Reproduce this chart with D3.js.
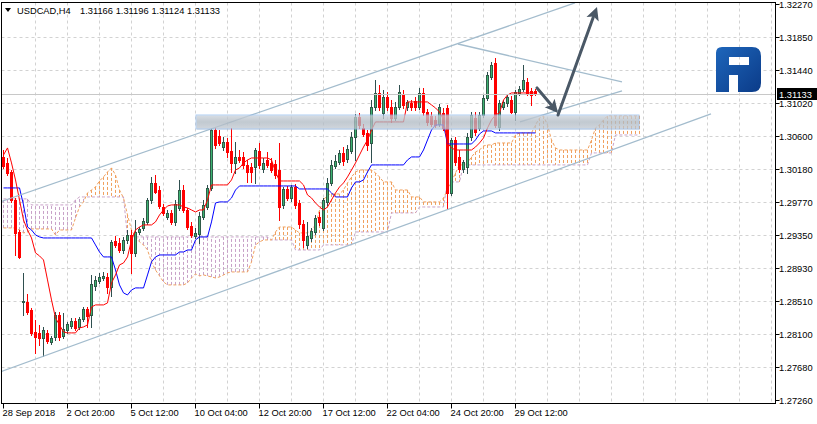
<!DOCTYPE html>
<html><head><meta charset="utf-8">
<script src="https://cdn.jsdelivr.net/npm/d3@7"></script>
<style>
html,body{margin:0;padding:0;background:#fff;}
svg{display:block;}
text{font-family:"Liberation Sans",Arial,sans-serif;font-size:9.3px;fill:#000;}
</style></head><body>
<svg id="c" width="817" height="424"></svg>
<script>
// ---------------- DATA ----------------
const symbolTitle = "USDCAD,H4";
const lastOHLC = [1.31166, 1.31196, 1.31124, 1.31133];
const priceTicks = [1.32270,1.31850,1.31440,1.31020,1.30600,1.30180,1.29770,1.29350,1.28930,1.28510,1.28100,1.27680,1.27260];
const timeLabels = ["28 Sep 2018","2 Oct 20:00","5 Oct 12:00","10 Oct 04:00","12 Oct 20:00","17 Oct 12:00","22 Oct 04:00","24 Oct 20:00","29 Oct 12:00"];
const timeLabelBars = [0,16,32,48,64,80,96,112,128];

const opens = [1.30335,1.30259,1.30145,1.29791,1.29386,1.28501,1.28501,1.28399,1.28121,1.28109,
1.28045,1.28109,1.27995,1.28058,1.28336,1.28071,1.28146,1.28197,1.28260,1.28184,
1.28286,1.28412,1.28336,1.28703,1.28766,1.28804,1.28817,1.28690,1.29272,1.29247,
1.29158,1.29285,1.29348,1.29121,1.29386,1.29437,1.29513,1.29791,1.30006,1.29917,
1.29702,1.29576,1.29627,1.29513,1.29690,1.29917,1.29664,1.29462,1.29336,1.29361,
1.29576,1.29702,1.29943,1.30676,1.30601,1.30461,1.30525,1.30411,1.30259,1.30335,
1.30335,1.30234,1.30208,1.30208,1.30411,1.30183,1.30297,1.30259,1.30246,1.30170,
1.29728,1.29930,1.29816,1.29955,1.29753,1.29487,1.29222,1.29310,1.29386,1.29576,
1.29437,1.29766,1.30006,1.30221,1.30272,1.30386,1.30310,1.30411,1.30588,1.30841,
1.30702,1.30639,1.30512,1.30967,1.31145,1.30892,1.31094,1.30967,1.30828,1.30967,
1.31132,1.30967,1.31018,1.31043,1.30967,1.31145,1.30904,1.30854,1.30803,1.30752,
1.30892,1.30955,1.29880,1.30550,1.30335,1.30183,1.30208,1.30588,1.30828,1.30702,
1.30866,1.31081,1.31347,1.31524,1.30714,1.30967,1.31018,1.31056,1.30904,1.31145,
1.31195,1.31284,1.31170,1.31166];
const highs = [1.30423,1.30322,1.30170,1.29816,1.29411,1.28868,1.28602,1.28425,1.28273,1.28210,
1.28184,1.28146,1.28071,1.28374,1.28374,1.28362,1.28248,1.28298,1.28298,1.28311,
1.28437,1.28437,1.28842,1.28830,1.28868,1.28880,1.28868,1.29285,1.29336,1.29310,
1.29323,1.29411,1.29411,1.29538,1.29449,1.29563,1.29816,1.30082,1.30107,1.29968,
1.29740,1.29664,1.29664,1.29791,1.30044,1.29981,1.29690,1.29513,1.29437,1.29639,
1.29791,1.29981,1.30702,1.30714,1.30676,1.30588,1.30575,1.30702,1.30525,1.30423,
1.30398,1.30297,1.30259,1.30449,1.30512,1.30322,1.30398,1.30322,1.30297,1.30512,
1.29955,1.29968,1.29981,1.29993,1.29791,1.29538,1.29513,1.29437,1.29601,1.29639,
1.29816,1.30069,1.30297,1.30360,1.30423,1.30461,1.30487,1.30651,1.30879,1.30892,
1.30752,1.30676,1.31056,1.31309,1.31246,1.31182,1.31157,1.31056,1.31031,1.31246,
1.31182,1.31056,1.31056,1.31094,1.31208,1.31208,1.30942,1.30904,1.30854,1.31005,
1.30955,1.30993,1.30575,1.30588,1.30423,1.30297,1.30639,1.30904,1.30904,1.30904,
1.31119,1.31410,1.31537,1.31587,1.31056,1.31056,1.31119,1.31107,1.31182,1.31233,
1.31499,1.31334,1.31208,1.31196];
const lows = [1.30196,1.30107,1.29766,1.29095,1.29057,1.28336,1.28349,1.28083,1.27856,1.27957,
1.27818,1.27982,1.27969,1.28020,1.28020,1.28045,1.28109,1.28172,1.28146,1.28159,
1.28260,1.28184,1.28184,1.28652,1.28741,1.28779,1.28615,1.28577,1.29196,1.29133,
1.29121,1.29247,1.28868,1.29083,1.29361,1.29411,1.29487,1.29753,1.29880,1.29690,
1.29601,1.29551,1.29487,1.29475,1.29664,1.29639,1.29424,1.29323,1.29310,1.29247,
1.29551,1.29677,1.29917,1.30449,1.30487,1.30423,1.30335,1.30145,1.30133,1.30272,
1.30196,1.30019,1.30019,1.30006,1.30196,1.30145,1.30208,1.30145,1.30069,1.29538,
1.29690,1.29791,1.29778,1.29690,1.29437,1.29196,1.29184,1.29272,1.29361,1.29475,
1.29411,1.29728,1.29981,1.30196,1.30246,1.30234,1.30272,1.30386,1.30297,1.30702,
1.30601,1.30423,1.30272,1.30929,1.30929,1.30828,1.30929,1.30778,1.30803,1.30942,
1.30955,1.30929,1.30929,1.30929,1.30942,1.30866,1.30740,1.30727,1.30714,1.30727,
1.30676,1.29677,1.29854,1.30234,1.30145,1.30145,1.30133,1.30550,1.30613,1.30676,
1.30841,1.31056,1.31322,1.30714,1.30676,1.30942,1.30980,1.30892,1.30803,1.31119,
1.31170,1.31119,1.30993,1.31124];
const closes = [1.30221,1.30133,1.29791,1.29374,1.29070,1.28513,1.28374,1.28109,1.28058,1.28045,
1.28146,1.28007,1.28045,1.28336,1.28058,1.28159,1.28222,1.28260,1.28172,1.28286,
1.28412,1.28324,1.28728,1.28779,1.28817,1.28830,1.28690,1.29260,1.29222,1.29158,
1.29285,1.29348,1.29121,1.29386,1.29424,1.29525,1.29791,1.30006,1.29892,1.29715,
1.29627,1.29627,1.29513,1.29740,1.29917,1.29664,1.29449,1.29348,1.29374,1.29589,
1.29728,1.29943,1.30676,1.30487,1.30512,1.30525,1.30398,1.30259,1.30335,1.30297,
1.30234,1.30145,1.30145,1.30423,1.30234,1.30259,1.30234,1.30170,1.30107,1.29702,
1.29930,1.29816,1.29955,1.29728,1.29487,1.29285,1.29336,1.29399,1.29563,1.29513,
1.29791,1.30006,1.30234,1.30284,1.30386,1.30284,1.30436,1.30588,1.30841,1.30740,
1.30626,1.30487,1.30967,1.31145,1.30967,1.31094,1.30967,1.30828,1.30967,1.31157,
1.30993,1.31031,1.30967,1.30967,1.31145,1.30904,1.30778,1.30752,1.30740,1.30967,
1.30702,1.29880,1.30550,1.30272,1.30183,1.30272,1.30588,1.30866,1.30651,1.30866,
1.31081,1.31372,1.31499,1.30740,1.31018,1.31031,1.31094,1.30904,1.31157,1.31195,
1.31309,1.31145,1.31119,1.31133];

// Ichimoku lines
const tenkan = [1.30360,1.30449,1.30259,1.30044,1.29791,1.29538,1.29411,1.29310,1.29121,1.29083,
1.29032,1.28779,1.28526,1.28298,1.28210,1.28121,1.28109,1.28109,1.28109,1.28172,
1.28184,1.28210,1.28437,1.28463,1.28463,1.28463,1.28488,1.28741,1.28842,1.28969,
1.28994,1.29070,1.29285,1.29411,1.29449,1.29475,1.29475,1.29475,1.29513,1.29601,
1.29664,1.29715,1.29728,1.29728,1.29728,1.29702,1.29690,1.29664,1.29639,1.29664,
1.29664,1.29791,1.29981,1.29981,1.29981,1.29981,1.29981,1.30044,1.30170,1.30196,
1.30259,1.30297,1.30322,1.30322,1.30322,1.30322,1.30322,1.30297,1.30145,1.30031,
1.30031,1.30031,1.30031,1.30031,1.30031,1.29981,1.29854,1.29816,1.29753,1.29702,
1.29664,1.29702,1.29791,1.29880,1.29955,1.30006,1.30082,1.30170,1.30259,1.30360,
1.30461,1.30550,1.30676,1.30778,1.30778,1.30778,1.30778,1.30778,1.30778,1.30778,
1.30778,1.31031,1.31031,1.31031,1.31031,1.31031,1.31031,1.30993,1.30955,1.30904,
1.30803,1.30512,1.30449,1.30423,1.30423,1.30423,1.30423,1.30423,1.30461,1.30512,
1.30575,1.30702,1.30803,1.30866,1.30892,1.31056,1.31119,1.31145,1.31145,1.31145,
1.31145,1.31145,1.31145,1.31145];
const kijun = [1.29943,1.29943,1.29943,1.29943,1.29943,1.29728,1.29449,1.29411,1.29348,1.29323,
1.29310,1.29310,1.29310,1.29310,1.29310,1.29310,1.29310,1.29310,1.29310,1.29310,
1.29310,1.29310,1.29310,1.29222,1.29133,1.29070,1.29070,1.29070,1.28905,1.28716,
1.28615,1.28589,1.28652,1.28678,1.28678,1.28678,1.28842,1.29007,1.29070,1.29095,
1.29095,1.29095,1.29095,1.29095,1.29133,1.29133,1.29158,1.29158,1.29285,1.29323,
1.29323,1.29323,1.29513,1.29753,1.29766,1.29766,1.29766,1.29816,1.29917,1.29968,
1.29968,1.29968,1.29968,1.29968,1.29968,1.29968,1.29968,1.29968,1.29968,1.29968,
1.29968,1.29968,1.29968,1.29968,1.29930,1.29930,1.29930,1.29930,1.29930,1.29930,
1.29930,1.29930,1.29880,1.29829,1.29829,1.29829,1.29829,1.29943,1.30019,1.30019,
1.30044,1.30145,1.30234,1.30234,1.30234,1.30234,1.30234,1.30234,1.30234,1.30234,
1.30234,1.30297,1.30335,1.30335,1.30335,1.30423,1.30550,1.30676,1.30740,1.30740,
1.30740,1.30499,1.30499,1.30499,1.30499,1.30499,1.30499,1.30499,1.30550,1.30626,
1.30664,1.30664,1.30664,1.30639,1.30639,1.30639,1.30639,1.30639,1.30639,1.30639,
1.30639,1.30639,1.30639,1.30639];
const spanA = [1.29437,1.29437,1.29437,1.29437,1.29411,1.29374,1.29386,1.29424,1.29424,1.29424,
1.29424,1.29424,1.29424,1.29348,1.29411,1.29411,1.29411,1.29411,1.29563,1.29702,
1.29766,1.29880,1.29917,1.29955,1.30031,1.30082,1.30145,1.30196,1.30107,1.29917,
1.29816,1.29601,1.29411,1.29323,1.29260,1.29222,1.29158,1.29007,1.28905,1.28830,
1.28754,1.28716,1.28716,1.28716,1.28716,1.28716,1.28741,1.28804,1.28855,1.28830,
1.28842,1.28830,1.28817,1.28804,1.28817,1.28842,1.28868,1.28880,1.28880,1.28880,
1.28880,1.28880,1.29007,1.29222,1.29260,1.29285,1.29285,1.29285,1.29386,1.29449,
1.29449,1.29449,1.29449,1.29411,1.29374,1.29374,1.29374,1.29411,1.29475,1.29664,
1.29791,1.29854,1.29867,1.29867,1.29867,1.29917,1.30006,1.30082,1.30145,1.30170,
1.30170,1.30170,1.30170,1.30133,1.30082,1.30019,1.30019,1.30019,1.29917,1.29917,
1.29917,1.29917,1.29829,1.29829,1.29829,1.29766,1.29766,1.29766,1.29766,1.29766,
1.29816,1.29917,1.30019,1.30133,1.30234,1.30234,1.30259,1.30335,1.30398,1.30423,
1.30474,1.30487,1.30487,1.30512,1.30512,1.30512,1.30512,1.30512,1.30613,1.30639,
1.30639,1.30639,1.30639,1.30740,1.30828,1.30854,1.30740,1.30550,1.30449,1.30423,
1.30423,1.30423,1.30423,1.30423,1.30423,1.30423,1.30423,1.30550,1.30702,1.30740,
1.30803,1.30854,1.30854,1.30854,1.30854,1.30854,1.30854,1.30854,1.30854,1.30854];
const spanB = [1.29804,1.29804,1.29804,1.29804,1.29804,1.29804,1.29804,1.29728,1.29728,1.29728,
1.29728,1.29728,1.29728,1.29728,1.29728,1.29728,1.29728,1.29728,1.29791,1.29829,
1.29829,1.29829,1.29829,1.29829,1.29829,1.29829,1.29829,1.29829,1.29829,1.29829,
1.29829,1.29323,1.29323,1.29323,1.29323,1.29323,1.29323,1.29323,1.29323,1.29323,
1.29323,1.29323,1.29323,1.29323,1.29323,1.29323,1.29323,1.29323,1.29323,1.29323,
1.29323,1.29323,1.29323,1.29323,1.29323,1.29323,1.29323,1.29323,1.29323,1.29323,
1.29323,1.29323,1.29323,1.29323,1.29323,1.29323,1.29323,1.29285,1.29285,1.29285,
1.29285,1.29285,1.29285,1.29158,1.29158,1.29158,1.29158,1.29158,1.29158,1.29158,
1.29222,1.29222,1.29222,1.29222,1.29222,1.29222,1.29222,1.29222,1.29386,1.29386,
1.29386,1.29386,1.29386,1.29386,1.29386,1.29386,1.29386,1.29627,1.29627,1.29627,
1.29627,1.29627,1.29627,1.29627,1.29702,1.29702,1.29702,1.29702,1.29702,1.29702,
1.29702,1.30019,1.30019,1.30019,1.30019,1.30234,1.30234,1.30234,1.30234,1.30234,
1.30234,1.30234,1.30234,1.30234,1.30234,1.30234,1.30234,1.30234,1.30234,1.30234,
1.30234,1.30234,1.30234,1.30234,1.30234,1.30234,1.30234,1.30234,1.30234,1.30234,
1.30234,1.30234,1.30234,1.30234,1.30234,1.30234,1.30234,1.30386,1.30386,1.30386,
1.30386,1.30386,1.30386,1.30613,1.30613,1.30613,1.30613,1.30613,1.30613,1.30613];

// annotations: [bar index, price]
const zoneBars = [48.25, 159];
const zonePrices = [1.30689, 1.30866];
const channelUpper = [[-1, 1.29761], [143, 1.32283]];
const channelLower = [[-1, 1.27610], [177, 1.30879]];
const wedgeUpper = [[113.75, 1.31764], [154.75, 1.31284]];
const wedgeLower = [[129.25, 1.30778], [154.75, 1.31170]];
const arrowDown = [[133.5, 1.31208], [138.75, 1.30892]];
const arrowUp = [[138.75, 1.30866], [148.5, 1.32232]];

// ---------------- DRAW ----------------
const svg = d3.select("#c");
const x = d3.scaleLinear().domain([0, 1]).range([3, 7]);
const y = d3.scaleLinear().domain([1.2726, 1.3227]).range([400, 4]);
const R = v => Math.round(v) + 0.5;
const plotL = 1.5, plotR = 775.5, plotT = 2.5, plotB = 403.5;

const defs = svg.append("defs");
defs.append("clipPath").attr("id","plot").append("rect")
  .attr("x", plotL).attr("y", plotT).attr("width", plotR-plotL).attr("height", plotB-plotT);
const gz = defs.append("linearGradient").attr("id","zg").attr("x1",0).attr("x2",0).attr("y1",0).attr("y2",1);
gz.append("stop").attr("offset","0%").attr("stop-color","#d3d9e0");
gz.append("stop").attr("offset","50%").attr("stop-color","#b2bcc6");
gz.append("stop").attr("offset","100%").attr("stop-color","#c6ced6");
const gl = defs.append("linearGradient").attr("id","lg").attr("x1",0).attr("x2",1).attr("y1",0).attr("y2",1);
gl.append("stop").attr("offset","0%").attr("stop-color","#1e66bb");
gl.append("stop").attr("offset","100%").attr("stop-color","#0b3b88");

const g = svg.append("g").attr("clip-path","url(#plot)");

// grid
const gridG = g.append("g").attr("stroke","#d2d2d2").attr("stroke-dasharray","3,3").attr("stroke-width",1);
priceTicks.slice(1, -1).forEach(p => {
  gridG.append("line").attr("x1", plotL).attr("x2", plotR).attr("y1", R(y(p))).attr("y2", R(y(p)));
});
for (let b = 8; x(b) < plotR; b += 8) {
  gridG.append("line").attr("x1", R(x(b))).attr("x2", R(x(b))).attr("y1", plotT).attr("y2", plotB);
}

// cloud hatching
const upCol = "#f0a05e", dnCol = "#c8a2c8";
const cloudG = g.append("g").attr("stroke-dasharray","3,2").attr("stroke-width",1);
spanA.forEach((a, i) => {
  const b = spanB[i];
  cloudG.append("line")
    .attr("x1", R(x(i))).attr("x2", R(x(i)))
    .attr("y1", y(a)).attr("y2", y(b))
    .attr("stroke", a >= b ? upCol : dnCol);
});
const lineGen = d3.line().x((d, i) => R(x(i))).y(d => y(d));
g.append("path").datum(spanB).attr("d", lineGen).attr("fill","none")
  .attr("stroke", dnCol).attr("stroke-dasharray","3,2");
g.append("path").datum(spanA).attr("d", lineGen).attr("fill","none")
  .attr("stroke", upCol).attr("stroke-dasharray","3,2");

// candles
const cg = g.append("g");
opens.forEach((o, i) => {
  const c = closes[i], hi = highs[i], lo = lows[i];
  const bull = c >= o;
  const px = Math.round(x(i));
  cg.append("line").attr("x1", px + 0.5).attr("x2", px + 0.5)
    .attr("y1", Math.round(y(hi))).attr("y2", Math.round(y(lo)) + 1)
    .attr("stroke", bull ? "#2f4f4f" : "#ff0000");
  const top = Math.round(y(Math.max(o, c))), bot = Math.round(y(Math.min(o, c)));
  if (bull) {
    cg.append("rect").attr("x", px - 1).attr("y", top).attr("width", 3).attr("height", Math.max(1, bot - top + 1))
      .attr("fill", "#2f5a48");
    if (bot - top > 1) cg.append("rect").attr("x", px).attr("y", top + 1).attr("width", 1).attr("height", bot - top - 1)
      .attr("fill", "#3cb371");
  } else {
    cg.append("rect").attr("x", px - 1).attr("y", top).attr("width", 3).attr("height", Math.max(1, bot - top + 1))
      .attr("fill", "#ff0000");
  }
});

// tenkan / kijun
g.append("path").datum(kijun).attr("d", lineGen).attr("fill","none").attr("stroke","#0000ff").attr("stroke-width",1);
g.append("path").datum(tenkan).attr("d", lineGen).attr("fill","none").attr("stroke","#ff0000").attr("stroke-width",1);

// current price line
g.append("line").attr("x1", plotL).attr("x2", plotR).attr("y1", R(y(lastOHLC[3]))).attr("y2", R(y(lastOHLC[3])))
  .attr("stroke","#c8c8c8");

// channel / wedge lines
const seg = pts => d3.line().x(d => x(d[0])).y(d => y(d[1]))(pts);
[channelUpper, channelLower, wedgeUpper, wedgeLower].forEach(pts => {
  g.append("path").attr("d", seg(pts)).attr("fill","none").attr("stroke","#a3bccd").attr("stroke-width",1.3);
});

// zone box
const zx0 = x(zoneBars[0]), zx1 = x(zoneBars[1]);
const zy0 = y(zonePrices[1]), zy1 = y(zonePrices[0]);
g.append("rect").attr("x", zx0 + 1).attr("y", zy0 + 1).attr("width", zx1 - zx0).attr("height", zy1 - zy0)
  .attr("fill", "#8a96a2").attr("opacity", 0.2);
g.append("rect").attr("x", zx0).attr("y", zy0).attr("width", zx1 - zx0).attr("height", zy1 - zy0)
  .attr("fill", "url(#zg)").attr("opacity", 0.7).attr("stroke", "#94bdf0").attr("stroke-width", 1);

// arrows
function arrow(pts) {
  const x1 = x(pts[0][0]), y1 = y(pts[0][1]), x2 = x(pts[1][0]), y2 = y(pts[1][1]);
  const ang = Math.atan2(y2 - y1, x2 - x1);
  const L = 13, Wd = 6.5;
  const bx = x2 - L * Math.cos(ang), by = y2 - L * Math.sin(ang);
  g.append("line").attr("x1", x1).attr("y1", y1).attr("x2", bx + 2 * Math.cos(ang)).attr("y2", by + 2 * Math.sin(ang))
    .attr("stroke", "#4a5866").attr("stroke-width", 3).attr("stroke-linecap","round");
  const p1 = [bx + Wd * Math.sin(ang), by - Wd * Math.cos(ang)];
  const p2 = [bx - Wd * Math.sin(ang), by + Wd * Math.cos(ang)];
  g.append("path").attr("d", `M${x2},${y2}L${p1[0]},${p1[1]}L${bx + 3*Math.cos(ang)},${by + 3*Math.sin(ang)}L${p2[0]},${p2[1]}Z`)
    .attr("fill", "#4a5866");
}
arrow(arrowDown);
arrow(arrowUp);

// logo
const logo = svg.append("g");
logo.append("path").attr("fill","url(#lg)").attr("fill-rule","evenodd")
  .attr("d","M716,92 V53 Q716,47 722,47 H752 Q761,47 761,56 V83 Q761,92 752,92 H738 V75 H729 V92 Z M729,57 H749 V65 H729 Z");

// frame
svg.append("rect").attr("x", plotL).attr("y", plotT).attr("width", plotR - plotL).attr("height", plotB - plotT)
  .attr("fill","none").attr("stroke","#000").attr("stroke-width",1);

// right axis
const ax = svg.append("g");
priceTicks.forEach(p => {
  const yy = R(y(p));
  ax.append("line").attr("x1", plotR).attr("x2", plotR + 4).attr("y1", yy).attr("y2", yy).attr("stroke","#000");
  ax.append("text").attr("x", 779).attr("y", yy + 3.5).text(p.toFixed(5));
});
// last price label
const ly = R(y(lastOHLC[3]));
ax.append("rect").attr("x", 777).attr("y", ly - 6.5).attr("width", 40).attr("height", 12).attr("fill","#000");
ax.append("text").attr("x", 779).attr("y", ly + 3.5).style("fill","#fff").text(lastOHLC[3].toFixed(5));

// bottom axis
timeLabelBars.forEach((b, k) => {
  const xx = R(x(b));
  ax.append("line").attr("x1", xx).attr("x2", xx).attr("y1", plotB).attr("y2", plotB + 5).attr("stroke","#000");
  ax.append("text").attr("x", xx - 1).attr("y", 416).text(timeLabels[k]);
});

// header
svg.append("path").attr("d","M5,8 H11 L8,12 Z").attr("fill","#000");
const hdr = svg.append("g");
hdr.append("text").attr("x", 17).attr("y", 14).text(symbolTitle);
lastOHLC.forEach((v, k) => {
  hdr.append("text").attr("x", 80 + k * 35.7).attr("y", 14).text(v.toFixed(5));
});
</script>
</body></html>
